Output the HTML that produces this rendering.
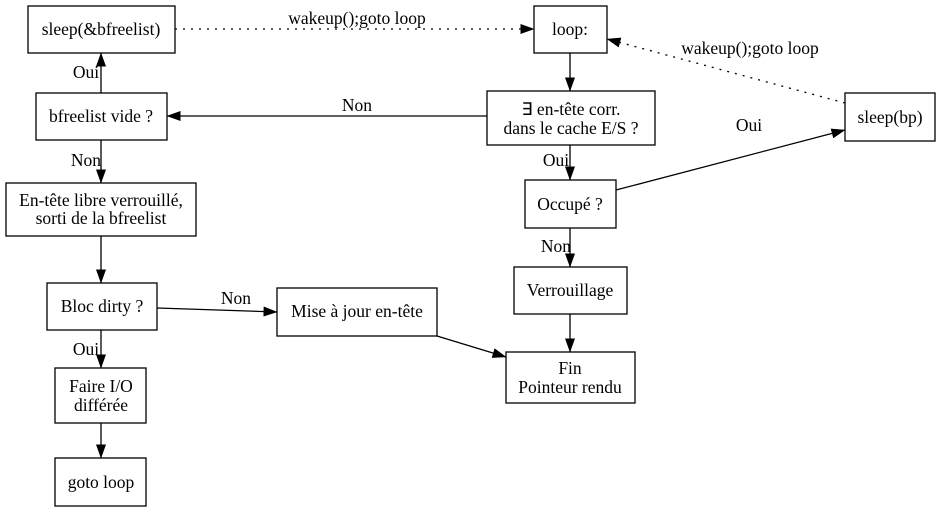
<!DOCTYPE html>
<html><head><meta charset="utf-8"><style>body{margin:0;background:#fff}svg{display:block}text{font-family:"Liberation Serif",serif;font-size:17.5px;fill:#000}</style></head><body>
<svg width="940" height="511" viewBox="0 0 940 511">
<defs><marker id="a" markerWidth="14" markerHeight="10" refX="13.5" refY="5" orient="auto" markerUnits="userSpaceOnUse"><path d="M0,0L14,5L0,10z" fill="#000"/></marker></defs>
<g fill="none" stroke="#000" stroke-width="1.3">
<rect x="28" y="6" width="147" height="47"/>
<rect x="534" y="6" width="73" height="47"/>
<rect x="36" y="93" width="131" height="47"/>
<rect x="487" y="91" width="168" height="54"/>
<rect x="845" y="93" width="90" height="48"/>
<rect x="6" y="183" width="190" height="53"/>
<rect x="525" y="180" width="91" height="48"/>
<rect x="514" y="267" width="113" height="47"/>
<rect x="47" y="283" width="110" height="47"/>
<rect x="277" y="288" width="160" height="48"/>
<rect x="506" y="352" width="129" height="51"/>
<rect x="55" y="368" width="91" height="55"/>
<rect x="55" y="458" width="91" height="48"/>
</g>
<g stroke="#000" stroke-width="1.3" fill="none" marker-end="url(#a)">
<path d="M175,29H534" stroke-dasharray="2,6"/>
<path d="M845,103L607,39" stroke-dasharray="2,6"/>
<path d="M570,53V91"/>
<path d="M487,116H167"/>
<path d="M101,93V53"/>
<path d="M101,140V183"/>
<path d="M570,145V180"/>
<path d="M616,190L845,130"/>
<path d="M570,228V267"/>
<path d="M570,314V352"/>
<path d="M101,236V283"/>
<path d="M157,308L277,312"/>
<path d="M437,336L506,357"/>
<path d="M101,330V368"/>
<path d="M101,423V458"/>
</g>
<g text-anchor="middle">
<text x="101" y="35">sleep(&amp;bfreelist)</text>
<text x="570" y="35">loop:</text>
<text x="101" y="122">bfreelist vide ?</text>
<text x="571" y="115">∃ en-tête corr.</text>
<text x="571" y="134">dans le cache E/S ?</text>
<text x="890" y="123">sleep(bp)</text>
<text x="101" y="206">En-tête libre verrouillé,</text>
<text x="101" y="224">sorti de la bfreelist</text>
<text x="570" y="210">Occupé ?</text>
<text x="570" y="296">Verrouillage</text>
<text x="102" y="312">Bloc dirty ?</text>
<text x="357" y="317">Mise à jour en-tête</text>
<text x="570" y="374">Fin</text>
<text x="570" y="393">Pointeur rendu</text>
<text x="101" y="392">Faire I/O</text>
<text x="101" y="411">différée</text>
<text x="101" y="488">goto loop</text>
<text x="357" y="24">wakeup();goto loop</text>
<text x="750" y="54">wakeup();goto loop</text>
<text x="357" y="111">Non</text>
<text x="86" y="78">Oui</text>
<text x="86" y="166">Non</text>
<text x="556" y="166">Oui</text>
<text x="749" y="131">Oui</text>
<text x="556" y="252">Non</text>
<text x="236" y="304">Non</text>
<text x="86" y="355">Oui</text>
</g>
</svg>
</body></html>
